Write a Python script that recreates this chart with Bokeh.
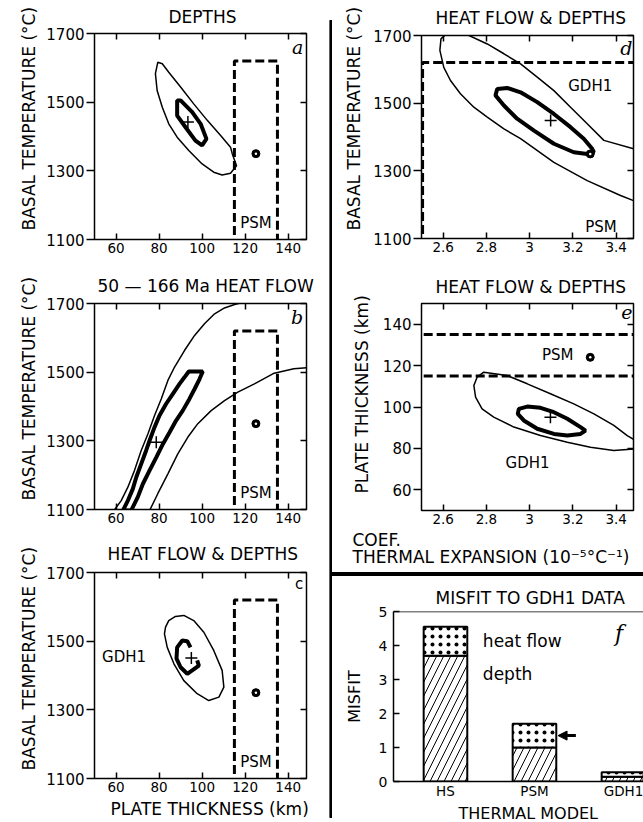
from bokeh.plotting import figure
from bokeh.layouts import row, column
from bokeh.models import (LinearAxis, FixedTicker, Title, Arrow, NormalHead, Range1d,
                          ColumnDataSource, Span, CustomLabelingPolicy, Div)
from bokeh.core.properties import value
from bokeh.embed import file_html
from bokeh.resources import INLINE

FONT = "DejaVu Sans"
SERIF = "DejaVu Serif"

# ---------------- axis ticks ----------------
thickness_ticks = [60, 80, 100, 120, 140]
temperature_ticks = [1100, 1300, 1500, 1700]
alpha_ticks = [2.6, 2.8, 3.0, 3.2, 3.4]
plate_ticks = [60, 80, 100, 120, 140]
misfit_ticks = [0, 1, 2, 3, 4, 5]

# ---------------- PSM reference model ----------------
psm_thickness_range = [115, 135]
psm_temperature_range = [1075, 1620]
psm_alpha_edge = 2.505
psm_thickness = 125
psm_temperature = 1350
psm_alpha = 3.28

# ---------------- (a) depths only ----------------
a_outer_x = [79.4, 78.3, 79.1, 81.5, 84.5, 88.4, 93.8, 100.0, 105.4, 109.3, 113.2, 116.0,
             114.0, 113.2, 108.6, 102.4, 96.1, 90.0, 84.5, 81.5]
a_outer_y = [1616, 1583, 1534, 1485, 1437, 1398, 1359, 1320, 1296, 1288, 1293, 1315,
             1350, 1369, 1403, 1447, 1495, 1544, 1587, 1612]
a_inner_x = [88.4, 90.0, 95.4, 99.3, 102.0, 100.0, 96.9, 92.3, 88.4]
a_inner_y = [1505, 1505, 1471, 1437, 1393, 1374, 1388, 1427, 1461]
a_best = (93.4, 1442)

# ---------------- (b) 50-166 Ma heat flow ----------------
b_upper_x = [59.4, 62.4, 65.5, 68.6, 71.7, 74.8, 77.9, 81.0, 84.1, 87.2, 91.8, 96.5,
             101.1, 105.8, 110.4, 115.1, 120.0]
b_upper_y = [1100, 1126, 1165, 1214, 1272, 1320, 1374, 1422, 1476, 1515, 1563, 1607,
             1641, 1670, 1687, 1697, 1705]
b_lower_x = [75.6, 79.4, 84.1, 88.7, 93.4, 98.0, 104.2, 110.4, 116.6, 124.3, 133.5, 142.6, 148.5]
b_lower_y = [1097, 1146, 1204, 1262, 1311, 1350, 1388, 1417, 1442, 1466, 1497, 1510, 1513]
b_band_x = [63.2, 65.5, 67.8, 69.4, 71.7, 74.0, 75.6, 77.9, 80.2, 83.3, 86.4, 89.5, 91.8,
            93.8, 100.3, 98.8, 96.5, 94.1, 91.0, 87.9, 84.9, 81.8, 78.7, 75.6, 72.5, 70.1, 67.0]
b_band_y = [1097, 1126, 1160, 1194, 1233, 1272, 1301, 1340, 1374, 1408, 1437, 1466, 1485,
            1502, 1502, 1480, 1451, 1422, 1388, 1359, 1325, 1291, 1252, 1214, 1175, 1136, 1097]
b_best = (78.7, 1296)

# ---------------- (c) heat flow & depths ----------------
c_outer_x = [83.0, 84.5, 87.6, 91.5, 96.1, 100.8, 105.4, 109.3, 110.1, 107.8, 103.1, 97.7,
             91.5, 86.9, 83.8, 82.5]
c_outer_y = [1541, 1560, 1572, 1575, 1560, 1526, 1473, 1415, 1366, 1337, 1327, 1347,
             1385, 1434, 1482, 1521]
c_inner_x = [94.6, 93.1, 90.8, 88.4, 88.1, 90.0, 93.1, 95.4, 98.5, 97.7]
c_inner_y = [1482, 1500, 1502, 1482, 1449, 1424, 1405, 1415, 1429, 1444]
c_best = (95.0, 1451)

# ---------------- (d) temperature vs expansion coefficient ----------------
d_outer_x = [3.48, 3.42, 3.266, 3.112, 2.958, 2.881, 2.804, 2.742, 2.680, 2.634, 2.603, 2.585,
             2.59, 2.62, 2.68, 2.72, 2.804, 2.881, 2.958, 3.035, 3.112, 3.189, 3.266, 3.343,
             3.48, 3.56]
d_outer_y = [1212, 1227, 1271, 1325, 1395, 1424, 1459, 1488, 1528, 1567, 1606, 1656,
             1690, 1708, 1710, 1700, 1675, 1646, 1616, 1577, 1537, 1488, 1439, 1390,
             1365, 1290]
d_inner_x = [2.850, 2.896, 2.958, 3.035, 3.112, 3.189, 3.250, 3.289, 3.297, 3.266, 3.204,
             3.112, 3.020, 2.942, 2.881, 2.842]
d_inner_y = [1542, 1545, 1532, 1503, 1468, 1429, 1395, 1365, 1355, 1350, 1355,
             1380, 1419, 1454, 1493, 1523]
d_best = (3.097, 1449)

# ---------------- (e) plate thickness vs expansion coefficient ----------------
e_outer_x = [2.788, 2.896, 2.989, 3.096, 3.204, 3.297, 3.389, 3.451, 3.489, 3.489, 3.389,
             3.281, 3.174, 3.050, 2.927, 2.834, 2.780, 2.750, 2.742, 2.757]
e_outer_y = [116.8, 115.2, 111.2, 106.4, 101.5, 96.7, 91.1, 86.2, 83.8, 79.8, 79.0,
             80.6, 83.0, 86.2, 90.3, 95.1, 99.1, 104.8, 110.4, 114.4]
e_inner_x = [2.950, 2.989, 3.050, 3.112, 3.174, 3.235, 3.258, 3.235, 3.174, 3.112, 3.035,
             2.973, 2.945]
e_inner_y = [99.1, 100.2, 99.6, 97.5, 94.3, 90.3, 88.6, 87.0, 86.2, 87.0, 89.5, 93.5, 96.7]
e_best = (3.096, 95.1)
e_psm_point = (3.28, 124)

# ---------------- (f) misfit bars ----------------
models = ["HS", "PSM", "GDH1"]
model_pos = [1, 2, 3]
depth_misfit = [3.7, 1.0, 0.14]
heatflow_misfit = [0.85, 0.7, 0.13]

HIDE_LABELS = "for (const i of indices) indices.unset(i)"


def base_fig(width, height, xr, yr, left, right, top, bottom):
    p = figure(width=width, height=height, x_range=Range1d(*xr), y_range=Range1d(*yr),
               output_backend="svg", toolbar_location=None,
               min_border_left=left, min_border_right=right,
               min_border_top=top, min_border_bottom=bottom)
    p.grid.visible = False
    p.outline_line_color = "black"
    p.outline_line_width = 1.5
    p.border_fill_color = "white"
    return p


def set_title(p, text, offset, standoff, size="17px"):
    p.title.text = text
    p.title.align = "left"
    p.title.offset = offset
    p.title.text_font = FONT
    p.title.text_font_size = size
    p.title.text_font_style = "normal"
    p.title.text_color = "black"
    p.title.standoff = standoff


def side_title(p, text, side, offset, standoff, size="17px"):
    t = Title(text=text, align="left", offset=offset, text_font=FONT, text_font_size=size,
              text_font_style="normal", text_color="black", standoff=standoff)
    p.add_layout(t, side)


def style_axes(p, xticks, yticks):
    xa, ya = p.xaxis[0], p.yaxis[0]
    xa.ticker = FixedTicker(ticks=xticks)
    ya.ticker = FixedTicker(ticks=yticks)
    for ax in (xa, ya):
        ax.axis_line_color = None
        ax.minor_tick_line_color = None
        ax.major_tick_line_width = 1.5
        ax.major_tick_line_color = "black"
        ax.major_label_text_font = FONT
        ax.major_label_text_color = "black"
    xa.major_tick_in, xa.major_tick_out, xa.major_label_standoff = 6, 0, 3
    xa.major_label_text_font_size = "13.5px"
    ya.major_tick_in, ya.major_tick_out, ya.major_label_standoff = 0, 8, 2
    ya.major_label_text_font_size = "15px"
    # tick marks mirrored on the top and right edges, without labels
    for side, ticks in (("above", xticks), ("right", yticks)):
        ax = LinearAxis(ticker=FixedTicker(ticks=ticks), axis_line_color=None,
                        minor_tick_line_color=None, major_tick_in=6, major_tick_out=0,
                        major_tick_line_width=1.5, major_label_text_font_size="1px",
                        major_label_standoff=0,
                        major_label_policy=CustomLabelingPolicy(code=HIDE_LABELS))
        p.add_layout(ax, side)


def letter(p, x, y, txt, serif=True, size="19px"):
    p.text(x=[x], y=[y], text=[txt], text_font=value(SERIF if serif else FONT),
           text_font_style="italic" if serif else "normal", text_font_size=size,
           text_align="right", text_baseline="top", text_color="black")


def label(p, x, y, txt, size="15px", align="center"):
    p.text(x=[x], y=[y], text=[txt], text_font=value(FONT), text_font_size=size,
           text_align=align, text_baseline="middle", text_color="black")


def contour(p, xs, ys, width):
    p.patch(xs, ys, fill_color=None, line_color="black", line_width=width)


def best_fit(p, pt):
    p.scatter([pt[0]], [pt[1]], marker="cross", size=12, line_color="black", line_width=1.5)


def psm_point(p, x, y):
    p.scatter([x], [y], marker="circle", size=8, fill_color="black", line_color="black")
    p.scatter([x], [y], marker="circle", size=2.5, fill_color="white", line_color=None)


def psm_box(p):
    x0, x1 = psm_thickness_range
    y0, y1 = psm_temperature_range
    p.line([x0, x0, x1, x1], [y0, y1, y1, y0], line_color="black", line_width=3,
           line_dash="9 4")
    label(p, psm_thickness, 1148, "PSM")
    psm_point(p, psm_thickness, psm_temperature)


T_XR = (50, 148.5)
T_YR = (1100, 1700)
YLAB_T = "BASAL TEMPERATURE (°C)"

# ---- (a)
pa = base_fig(329, 270, T_XR, T_YR, 94, 23, 33, 31)
set_title(pa, "DEPTHS", 74, 6)
style_axes(pa, thickness_ticks, temperature_ticks)
side_title(pa, YLAB_T, "left", 9, 9)
contour(pa, a_outer_x, a_outer_y, 1.5)
contour(pa, a_inner_x, a_inner_y, 4)
best_fit(pa, a_best)
psm_box(pa)
letter(pa, 147, 1693, "a")

# ---- (b)
pb = base_fig(329, 260, T_XR, T_YR, 94, 23, 33, 21)
set_title(pb, "50 — 166 Ma HEAT FLOW", 3, 7)
style_axes(pb, thickness_ticks, temperature_ticks)
side_title(pb, YLAB_T, "left", 9, 9)
pb.line(b_upper_x, b_upper_y, line_color="black", line_width=1.5)
pb.line(b_lower_x, b_lower_y, line_color="black", line_width=1.5)
contour(pb, b_band_x, b_band_y, 4)
best_fit(pb, b_best)
psm_box(pb)
letter(pb, 147, 1693, "b")

# ---- (c)
pc = base_fig(329, 292, T_XR, T_YR, 94, 23, 42, 44)
set_title(pc, "HEAT FLOW & DEPTHS", 13, 10)
style_axes(pc, thickness_ticks, temperature_ticks)
side_title(pc, YLAB_T, "left", 8, 9)
side_title(pc, "PLATE THICKNESS (km)", "below", 16, 5)
contour(pc, c_outer_x, c_outer_y, 1.5)
pc.line(c_inner_x, c_inner_y, line_color="black", line_width=4)
best_fit(pc, c_best)
psm_box(pc)
label(pc, 53.5, 1455, "GDH1", align="left")
letter(pc, 147, 1693, "c", serif=False, size="15px")

# ---- (d)
A_XR = (2.5, 3.48)
pd_ = base_fig(311, 270, A_XR, T_YR, 89, 10, 35, 32)
set_title(pd_, "HEAT FLOW & DEPTHS", 14, 7)
style_axes(pd_, alpha_ticks, temperature_ticks)
side_title(pd_, YLAB_T, "left", 8, 14)
contour(pd_, d_outer_x, d_outer_y, 1.5)
contour(pd_, d_inner_x, d_inner_y, 4)
pd_.line([psm_alpha_edge, psm_alpha_edge, 3.6],
         [psm_temperature_range[0], psm_temperature_range[1], psm_temperature_range[1]],
         line_color="black", line_width=3, line_dash="9 4")
psm_point(pd_, psm_alpha, psm_temperature)
best_fit(pd_, d_best)
label(pd_, 3.28, 1550, "GDH1")
label(pd_, 3.33, 1135, "PSM")
letter(pd_, 3.475, 1697, "d")

# ---- (e)
pe = base_fig(311, 302, A_XR, (50, 150), 89, 10, 33, 62)
set_title(pe, "HEAT FLOW & DEPTHS", 14, 5)
style_axes(pe, alpha_ticks, plate_ticks)
side_title(pe, "PLATE THICKNESS (km)", "left", 17, 16)
for level in psm_thickness_range:
    pe.line([2.45, 3.6], [level, level], line_color="black", line_width=3, line_dash="9 4")
contour(pe, e_outer_x, e_outer_y, 1.5)
contour(pe, e_inner_x, e_inner_y, 4)
psm_point(pe, *e_psm_point)
best_fit(pe, e_best)
label(pe, 3.13, 125, "PSM")
label(pe, 2.99, 73, "GDH1")
letter(pe, 3.475, 149.5, "e")
pe.add_layout(Title(text="COEF.\nTHERMAL EXPANSION (10⁻⁵°C⁻¹)", align="left", offset=-69,
                    text_font=FONT, text_font_size="17px", text_font_style="normal",
                    text_color="black", text_line_height=0.85, standoff=2), "below")

# ---- divider rules
vdiv = figure(width=3, height=822, x_range=Range1d(0, 1), y_range=Range1d(822, 0),
              output_backend="svg", toolbar_location=None, min_border=0,
              x_axis_location=None, y_axis_location=None, outline_line_color=None)
vdiv.grid.visible = False
vdiv.quad(left=0, right=1, top=20, bottom=817, color="black")

hdiv = Div(text="", width=311, height=4, margin=0,
           styles={"background-color": "black"})

# ---- (f)
pf = base_fig(311, 246, (0.416, 3.225), (0, 5), 61, 0, 35, 41)
pf.outline_line_color = None
set_title(pf, "MISFIT TO GDH1 DATA", 42, 7)
totals = [d + h for d, h in zip(depth_misfit, heatflow_misfit)]
src = ColumnDataSource(dict(x=model_pos, depth=depth_misfit, total=totals))
bw = 0.49
pf.vbar(x="x", width=bw, bottom=0, top="depth", source=src, fill_color="white",
        line_color="black", line_width=2, hatch_pattern="/", hatch_color="black",
        hatch_scale=14, hatch_weight=1)
pf.vbar(x="x", width=bw, bottom="depth", top="total", source=src, fill_color="white",
        line_color="black", line_width=2, hatch_pattern=".", hatch_color="black",
        hatch_scale=8, hatch_weight=2)
fx, fy = pf.xaxis[0], pf.yaxis[0]
fx.ticker = FixedTicker(ticks=model_pos)
fx.major_label_overrides = {m: n for m, n in zip(model_pos, models)}
fx.major_tick_line_color = None
fx.major_tick_in, fx.major_tick_out = 0, 0
fy.ticker = FixedTicker(ticks=misfit_ticks)
fy.major_tick_in, fy.major_tick_out = 6, 0
fy.major_label_standoff = 6
for ax in (fx, fy):
    ax.minor_tick_line_color = None
    ax.axis_line_width = 1.5
    ax.axis_line_color = "black"
    ax.major_tick_line_width = 1.5
    ax.major_label_text_font = FONT
    ax.major_label_text_font_size = "14px"
    ax.major_label_text_color = "black"
    ax.axis_label_text_font = FONT
    ax.axis_label_text_font_size = "16px"
    ax.axis_label_text_font_style = "normal"
    ax.axis_label_text_color = "black"
fx.major_label_text_font_size = "13.5px"
fx.major_label_standoff = 1
fy.axis_label = "MISFIT"
fy.axis_label_standoff = 12
side_title(pf, "THERMAL MODEL", "below", 65, 0, size="16px")
pf.add_layout(Span(location=5, dimension="width", line_color="black", line_width=1.5))
label(pf, 1.42, depth_misfit[0] + heatflow_misfit[0] / 2, "heat flow", size="17px", align="left")
label(pf, 1.42, 3.15, "depth", size="17px", align="left")
arrow_x = model_pos[1] + bw / 2 + 0.02
arrow_y = depth_misfit[1] + heatflow_misfit[1] / 2
pf.add_layout(Arrow(end=NormalHead(size=9, fill_color="black", line_color="black"),
                    x_start=arrow_x + 0.2, y_start=arrow_y, x_end=arrow_x, y_end=arrow_y,
                    line_width=3, line_color="black"))
pf.text(x=[2.95], y=[4.35], text=["f"], text_font=value(SERIF), text_font_style="italic",
        text_font_size="22px", text_align="center", text_baseline="middle", text_color="black")

left = column(pa, pb, pc, spacing=0)
right = column(column(pd_, pe, spacing=0), hdiv, row(pf, spacing=0), spacing=0)
layout = row(left, vdiv, right, spacing=0)

open("out.html", "w").write(file_html(layout, INLINE))
